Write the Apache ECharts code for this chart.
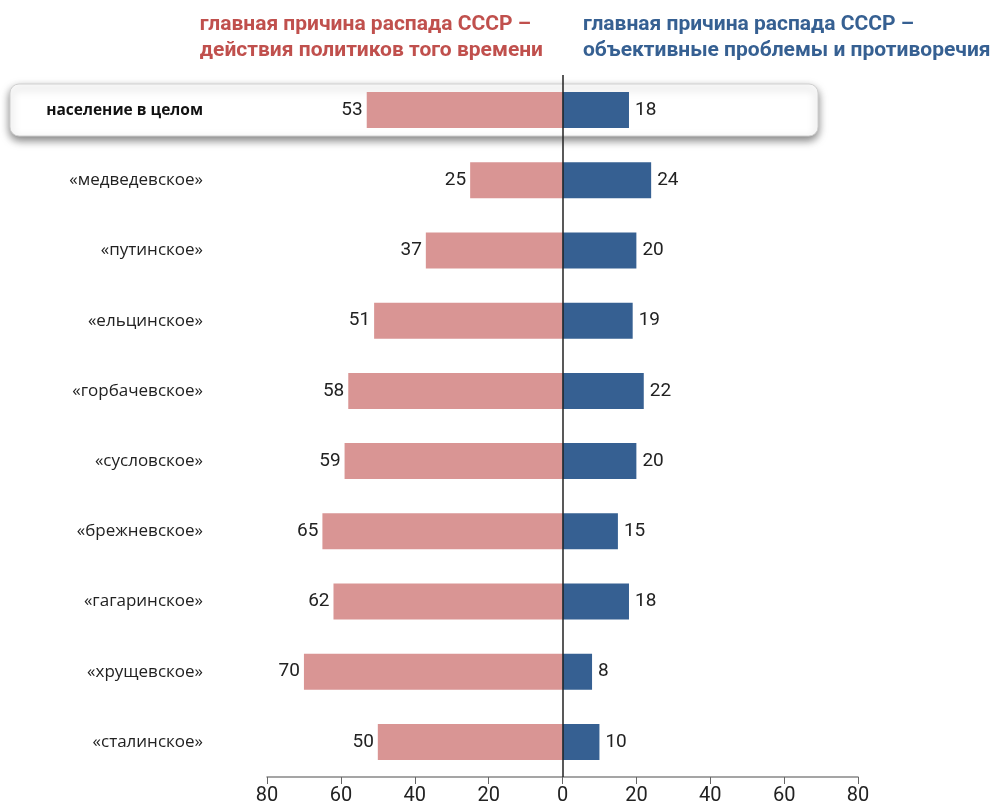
<!DOCTYPE html>
<html><head><meta charset="utf-8">
<script src="https://cdn.jsdelivr.net/npm/echarts@6/dist/echarts.min.js"></script>
<style>html,body{margin:0;padding:0;background:#fff}#c{width:991px;height:809px}</style>
</head><body><div id="c"></div>
<script>
const categories = ['население в целом','«медведевское»','«путинское»','«ельцинское»','«горбачевское»','«сусловское»','«брежневское»','«гагаринское»','«хрущевское»','«сталинское»'];
const politicians = [53,25,37,51,58,59,65,62,70,50];
const objective = [18,24,20,19,22,20,15,18,8,10];
const leftTitle = 'главная причина распада СССР –\nдействия политиков того времени';
const rightTitle = 'главная причина распада СССР –\nобъективные проблемы и противоречия';

const NUM_FONT = 'Roboto, sans-serif';
const chart = echarts.init(document.getElementById('c'));
chart.setOption({
  animation:false,
  title:[
    {text:leftTitle,right:443,top:7,textStyle:{fontFamily:NUM_FONT,fontWeight:'bold',fontSize:21,color:'#C0504D',lineHeight:26,align:'right'}},
    {text:rightTitle,left:578,top:7,textStyle:{fontFamily:NUM_FONT,fontWeight:'bold',fontSize:21,color:'#366092',lineHeight:26}}
  ],
  graphic:[{type:'rect',z:-1,shape:{x:10,y:84,width:808,height:52,r:9},
    style:{fill:'#fff',stroke:'#d0d0d0',lineWidth:1,shadowBlur:8,shadowOffsetY:4,shadowColor:'rgba(0,0,0,0.5)'}}],
  grid:{left:267,right:133,top:75,bottom:32,containLabel:false},
  xAxis:{type:'value',min:-80,max:80,interval:20,
    axisLine:{show:true,lineStyle:{color:'#888',width:1.5}},
    axisTick:{show:true,length:7,lineStyle:{color:'#666'}},
    splitLine:{show:false},
    axisLabel:{formatter:v=>Math.abs(v),fontFamily:NUM_FONT,fontSize:20,color:'#222',margin:9}},
  yAxis:{type:'category',inverse:true,data:categories,
    axisLine:{show:false},axisTick:{show:false},
    axisLabel:{margin:64,fontFamily:'"Open Sans",sans-serif',fontSize:17,color:'#222',
      formatter:(v,i)=>i===0?'{b|'+v+'}':v,
      rich:{b:{fontWeight:'bold',fontFamily:'"Open Sans",sans-serif',fontSize:15.5,color:'#111'}}}},
  series:[
    {type:'bar',stack:'s',barWidth:36,data:politicians.map(v=>-v),
      itemStyle:{color:'#D99594'},
      label:{show:true,position:'left',distance:4,formatter:p=>Math.abs(p.value),fontFamily:NUM_FONT,fontSize:19,color:'#222'},
      markLine:{symbol:'none',silent:true,label:{show:false},lineStyle:{color:'#222',width:1.5,type:'solid'},data:[{xAxis:0}]}},
    {type:'bar',stack:'s',barWidth:36,data:objective,
      itemStyle:{color:'#366092'},
      label:{show:true,position:'right',distance:6,fontFamily:NUM_FONT,fontSize:19,color:'#222'}}
  ]
});
</script></body></html>
